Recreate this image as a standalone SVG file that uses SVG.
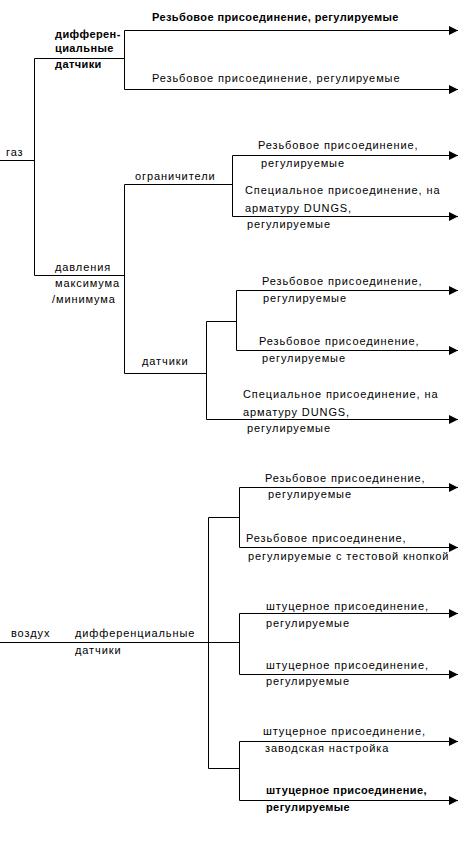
<svg xmlns="http://www.w3.org/2000/svg" width="460" height="844" viewBox="0 0 460 844">
<defs>
<marker id="ah" viewBox="0 0 10 10" refX="10" refY="5" markerWidth="9" markerHeight="9" markerUnits="userSpaceOnUse" orient="auto">
<path d="M0,0 L10,5 L0,10 Z" fill="#000"/>
</marker>
<style>
text{font-family:"Liberation Sans",Arial,sans-serif;font-size:11px;fill:#000;letter-spacing:0.9px}
.b{font-weight:bold;letter-spacing:0.4px}
.l{stroke:#000;stroke-width:1;fill:none}
.a{stroke:#000;stroke-width:1;fill:none;marker-end:url(#ah)}
</style>
</defs>
<rect width="460" height="844" fill="#fff"/>
<g id="connectors">
<path class="l" d="M0,160.5 H34.5 M34.5,58.5 V275.5 M34.5,58.5 H124.5 M124.5,30.5 V89.5"/>
<path class="a" d="M124.5,30.5 H458"/>
<path class="a" d="M124.5,89.5 H458"/>
<path class="l" d="M34.5,275.5 H124.5 M124.5,184.5 V373.5 M124.5,184.5 H232.5 M232.5,155.5 V216.5"/>
<path class="a" d="M232.5,155.5 H458"/>
<path class="a" d="M232.5,216.5 H458"/>
<path class="l" d="M124.5,373.5 H206.5 M206.5,321.5 V419.5 M206.5,321.5 H236.5 M236.5,290.5 V350.5"/>
<path class="a" d="M236.5,290.5 H458"/>
<path class="a" d="M236.5,350.5 H458"/>
<path class="a" d="M206.5,419.5 H458"/>
<path class="l" d="M0,642.5 H239.5 M208.5,517.5 V768.5 M208.5,517.5 H239.5 M239.5,487.5 V547.5 M239.5,613.5 V674.5 M208.5,768.5 H239.5 M239.5,741.5 V800.5"/>
<path class="a" d="M239.5,487.5 H458"/>
<path class="a" d="M239.5,547.5 H458"/>
<path class="a" d="M239.5,613.5 H458"/>
<path class="a" d="M239.5,674.5 H458"/>
<path class="a" d="M239.5,741.5 H458"/>
<path class="a" d="M239.5,800.5 H458"/>
</g>
<g id="gas"><text x="6" y="156">газ</text></g>
<g id="gas-diff"><text class="b" x="55" y="38">дифферен-</text><text class="b" x="55" y="52">циальные</text><text class="b" x="55" y="68">датчики</text></g>
<g id="gas-diff-1"><text class="b" x="152" y="21">Резьбовое присоединение, регулируемые</text></g>
<g id="gas-diff-2"><text x="152" y="82">Резьбовое присоединение, регулируемые</text></g>
<g id="gas-press"><text x="55" y="271">давления</text><text x="55" y="287">максимума</text><text x="52" y="303">/минимума</text></g>
<g id="limiters"><text x="135" y="180">ограничители</text></g>
<g id="lim-1"><text x="258" y="149">Резьбовое присоединение,</text><text x="261" y="167">регулируемые</text></g>
<g id="lim-2"><text x="245" y="194">Специальное присоединение, на</text><text x="245" y="212">арматуру DUNGS,</text><text x="247" y="228">регулируемые</text></g>
<g id="sensors"><text x="142" y="365">датчики</text></g>
<g id="sen-1"><text x="262" y="285">Резьбовое присоединение,</text><text x="263" y="302">регулируемые</text></g>
<g id="sen-2"><text x="259" y="345">Резьбовое присоединение,</text><text x="262" y="362">регулируемые</text></g>
<g id="sen-3"><text x="243" y="398">Специальное присоединение, на</text><text x="243" y="416">арматуру DUNGS,</text><text x="247" y="432">регулируемые</text></g>
<g id="air"><text x="11" y="637">воздух</text></g>
<g id="air-diff"><text x="75" y="637">дифференциальные</text><text x="75" y="654">датчики</text></g>
<g id="air-1"><text x="265" y="482">Резьбовое присоединение,</text><text x="268" y="498">регулируемые</text></g>
<g id="air-2"><text x="246" y="542">Резьбовое присоединение,</text><text x="248" y="560">регулируемые с тестовой кнопкой</text></g>
<g id="air-3"><text x="266" y="610">штуцерное присоединение,</text><text x="266" y="627">регулируемые</text></g>
<g id="air-4"><text x="266" y="669">штуцерное присоединение,</text><text x="266" y="685">регулируемые</text></g>
<g id="air-5"><text x="263" y="735">штуцерное присоединение,</text><text x="265" y="752">заводская настройка</text></g>
<g id="air-6"><text class="b" x="266" y="794">штуцерное присоединение,</text><text class="b" x="266" y="811">регулируемые</text></g>
</svg>
